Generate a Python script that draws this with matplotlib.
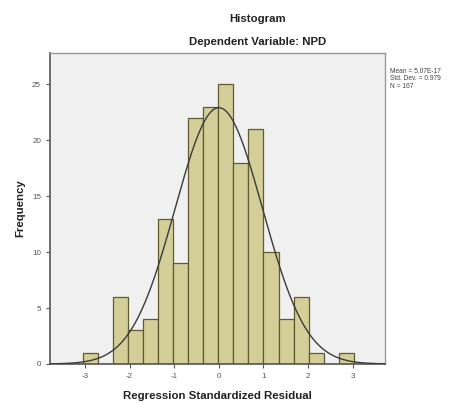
import numpy as np
import matplotlib
matplotlib.use("Agg")
import matplotlib.pyplot as plt

plt.rcParams["font.family"] = ["Liberation Sans", "DejaVu Sans"]
plt.rcParams["axes.unicode_minus"] = False

# Residual histogram counts, one per bin (left to right)
counts = [1, 0, 6, 3, 4, 13, 9, 22, 23, 25, 18, 21, 10, 4, 6, 1, 0, 1]
bin_start = -3.04
bin_width = 0.3367

# Summary statistics shown beside the plot
res_mean = 5.07e-17
res_std = 0.979
n_obs = 167

x_ticks = [-3, -2, -1, 0, 1, 2, 3]
y_ticks = [0, 5, 10, 15, 20, 25]

fig = plt.figure(figsize=(4.61, 4.03), dpi=100)
ax = fig.add_axes([0.1085, 0.0968, 0.7265, 0.7717])
ax.set_facecolor("#f0f0f0")

lefts = bin_start + bin_width * np.arange(len(counts))
ax.bar(lefts, counts, width=bin_width, align="edge",
       color="#d4cf98", edgecolor="#5f5c30", linewidth=0.9, zorder=2)

# Fitted normal curve scaled to the histogram
xs = np.linspace(-3.78, 3.72, 400)
pdf = np.exp(-0.5 * ((xs - res_mean) / res_std) ** 2) / (res_std * np.sqrt(2 * np.pi))
ax.plot(xs, n_obs * bin_width * pdf, color="#3a3a3a", linewidth=1.0, zorder=3)

ax.set_xlim(-3.78, 3.72)
ax.set_ylim(0, 27.8)
ax.set_xticks(x_ticks)
ax.set_yticks(y_ticks)
ax.tick_params(labelsize=5.8, labelcolor="#555555", color="#555555",
               length=3, width=0.8, direction="out")

for side in ("top", "right"):
    ax.spines[side].set_color("#9a9a9a")
    ax.spines[side].set_linewidth(1.0)
for side in ("left", "bottom"):
    ax.spines[side].set_color("#555555")
    ax.spines[side].set_linewidth(1.2)

ax.set_xlabel("Regression Standardized Residual", fontsize=8.2,
              fontweight="bold", color="#222222", labelpad=8)
ax.set_ylabel("Frequency", fontsize=8.2, fontweight="bold",
              color="#222222", labelpad=5)

fig.text(258 / 461, 1 - 19 / 403, "Histogram", ha="center", va="center",
         fontsize=8.2, fontweight="bold", color="#222222")
fig.text(258 / 461, 1 - 42 / 403, "Dependent Variable: NPD", ha="center",
         va="center", fontsize=8.2, fontweight="bold", color="#222222")

stats = (f"Mean = {res_mean:.2E}\n"
         f"Std. Dev. = {res_std:.3f}\n"
         f"N = {n_obs}")
fig.text(390 / 461, 1 - 68 / 403, stats, ha="left", va="top",
         fontsize=4.8, color="#444444", linespacing=1.1)

fig.savefig("out.png", dpi=100)
